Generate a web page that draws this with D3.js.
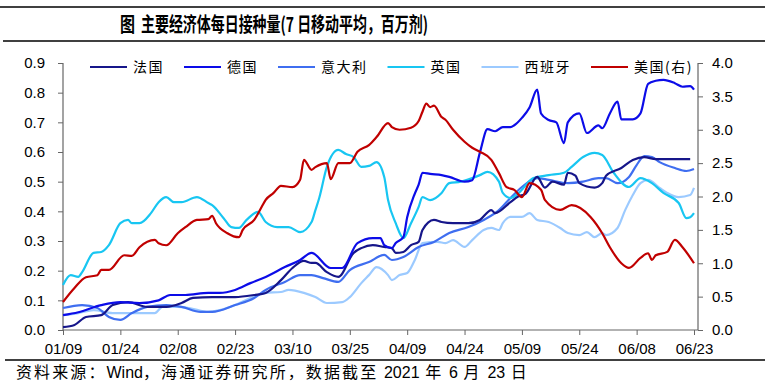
<!DOCTYPE html>
<html>
<head>
<meta charset="utf-8">
<script src="https://cdn.jsdelivr.net/npm/d3@7"></script>
<style>
  body { margin: 0; background: #fff; }
  svg { display: block; }
</style>
</head>
<body>
<svg id="chart" width="765" height="385"></svg>
<script>
// days counted from 2021-01-09
var startDate = new Date(2021, 0, 9);
var tickDays = [0, 15, 30, 45, 60, 75, 90, 105, 120, 135, 150, 165];
var leftTicks = [0, 0.1, 0.2, 0.3, 0.4, 0.5, 0.6, 0.7, 0.8, 0.9];
var rightTicks = [0, 0.5, 1, 1.5, 2, 2.5, 3, 3.5, 4];

var france = [[0,0.01],[3,0.017],[6,0.044],[10,0.05],[13,0.084],[17,0.094],[22,0.078],[27,0.078],[31,0.091],[34,0.108],[39,0.111],[45,0.111],[50,0.118],[53,0.125],[57,0.168],[60,0.209],[63,0.233],[65,0.226],[66,0.226],[69,0.195],[72,0.179],[76,0.26],[78,0.276],[81,0.286],[84,0.28],[86,0.276],[87,0.26],[89,0.263],[91,0.286],[93,0.297],[94,0.337],[97,0.371],[99,0.364],[102,0.36],[106,0.36],[109,0.371],[112,0.404],[113,0.394],[117,0.431],[119,0.45],[121,0.46],[124,0.516],[126,0.48],[128,0.5],[131,0.49],[132,0.53],[134,0.52],[135,0.495],[139,0.48],[141,0.495],[142,0.52],[146,0.546],[149,0.573],[152,0.583],[155,0.576],[160,0.576],[164,0.576]];

var germany = [[0,0.05],[4,0.06],[10,0.084],[15,0.094],[20,0.091],[25,0.1],[28,0.118],[32,0.118],[38,0.125],[41,0.125],[45,0.135],[49,0.158],[53,0.179],[58,0.212],[62,0.236],[65,0.26],[70,0.209],[73,0.209],[77,0.293],[81,0.31],[83,0.31],[84,0.286],[86,0.276],[87,0.293],[89,0.313],[90,0.38],[92,0.46],[93,0.49],[94,0.53],[96,0.526],[99,0.522],[101,0.516],[105,0.5],[107,0.505],[109,0.597],[111,0.677],[113,0.67],[115,0.684],[117,0.684],[118,0.69],[120,0.715],[122,0.75],[124,0.81],[125,0.73],[127,0.708],[129,0.7],[131,0.63],[132,0.7],[135,0.73],[137,0.664],[140,0.69],[141,0.68],[143,0.73],[145,0.77],[146,0.71],[149,0.71],[151,0.73],[153,0.83],[155,0.84],[157,0.843],[160,0.832],[162,0.82],[164,0.822],[165,0.81]];

var italy = [[0,0.074],[5,0.084],[9,0.074],[12,0.044],[15,0.034],[18,0.057],[22,0.078],[27,0.084],[31,0.078],[36,0.061],[39,0.061],[45,0.084],[50,0.108],[53,0.135],[58,0.162],[62,0.185],[65,0.185],[68,0.175],[72,0.162],[75,0.202],[80,0.229],[84,0.253],[86,0.236],[89,0.246],[93,0.28],[97,0.297],[101,0.327],[106,0.347],[110,0.371],[114,0.404],[117,0.445],[120,0.482],[124,0.512],[127,0.506],[132,0.495],[136,0.5],[140,0.512],[142,0.512],[145,0.495],[148,0.516],[150,0.556],[152,0.586],[154,0.583],[156,0.566],[160,0.546],[163,0.536],[165,0.543]];

var uk = [[0,0.152],[2,0.185],[4,0.179],[5,0.195],[8,0.26],[10,0.263],[12,0.286],[15,0.36],[17,0.371],[18,0.36],[20,0.36],[23,0.394],[25,0.431],[27,0.448],[29,0.431],[31,0.431],[35,0.448],[38,0.428],[39,0.421],[42,0.377],[44,0.347],[46,0.344],[48,0.371],[51,0.398],[53,0.364],[56,0.347],[59,0.347],[62,0.33],[65,0.364],[66,0.404],[67,0.445],[69,0.55],[72,0.607],[74,0.593],[76,0.583],[78,0.55],[80,0.553],[82,0.566],[84,0.516],[85,0.438],[87,0.36],[89,0.31],[91,0.36],[93,0.415],[94,0.448],[96,0.438],[99,0.462],[101,0.495],[104,0.5],[107,0.512],[109,0.522],[111,0.533],[114,0.5],[115,0.462],[117,0.445],[119,0.46],[123,0.512],[127,0.522],[131,0.53],[133,0.55],[136,0.583],[139,0.597],[141,0.59],[144,0.53],[148,0.482],[151,0.512],[154,0.495],[157,0.462],[161,0.428],[163,0.377],[164,0.38],[165,0.394]];

var spain = [[0,0.05],[4,0.057],[8,0.067],[13,0.057],[17,0.057],[20,0.057],[24,0.057],[26,0.078],[30,0.078],[33,0.074],[38,0.061],[41,0.067],[45,0.084],[49,0.108],[53,0.125],[57,0.128],[59,0.135],[63,0.125],[66,0.111],[69,0.091],[73,0.094],[75,0.111],[78,0.158],[80,0.185],[82,0.212],[85,0.185],[86,0.168],[88,0.185],[90,0.192],[92,0.236],[94,0.293],[98,0.297],[100,0.293],[102,0.303],[105,0.28],[107,0.303],[110,0.337],[112,0.344],[114,0.337],[115,0.36],[117,0.381],[120,0.381],[122,0.394],[124,0.371],[127,0.364],[130,0.344],[132,0.327],[135,0.32],[137,0.33],[139,0.313],[141,0.327],[142,0.32],[145,0.344],[147,0.404],[149,0.455],[151,0.495],[153,0.506],[156,0.479],[158,0.462],[161,0.448],[164,0.455],[165,0.479]];

// right axis
var usa = [[0,0.42],[3,0.63],[6,0.79],[9,0.82],[10,0.9],[12,0.9],[16,1.12],[18,1.11],[20,1.24],[24,1.35],[25,1.3],[27,1.27],[30,1.45],[32,1.54],[35,1.65],[38,1.66],[39,1.71],[40,1.6],[43,1.45],[46,1.39],[47,1.5],[50,1.65],[52,1.85],[53,1.95],[55,2.05],[57,2.16],[60,2.14],[62,2.25],[63,2.55],[65,2.4],[66,2.44],[69,2.5],[70,2.26],[72,2.5],[75,2.5],[77,2.67],[80,2.77],[82,2.89],[85,3.1],[86,3.04],[88,3.0],[91,3.03],[93,3.13],[94,3.27],[95,3.39],[96,3.34],[97,3.36],[99,3.19],[100,3.15],[102,3.0],[105,2.82],[107,2.73],[109,2.67],[112,2.55],[114,2.35],[116,2.14],[118,2.1],[120,1.99],[122,2.2],[125,2.1],[126,1.95],[130,1.8],[133,1.87],[138,1.69],[141,1.45],[143,1.24],[146,1.0],[148,0.93],[151,1.08],[153,1.15],[154,1.05],[155,1.12],[158,1.17],[160,1.35],[162,1.24],[165,1.0]];

var seriesNames = ['法国', '德国', '意大利', '英国', '西班牙', '美国(右)'];
var seriesData = [france, germany, italy, uk, spain, usa];
var seriesColors = ['#16168a', '#0c0ce8', '#3f6ef0', '#18c6f2', '#9ccaff', '#c00000'];
var seriesAxis = ['left', 'left', 'left', 'left', 'left', 'right'];
var drawOrder = [4, 2, 3, 0, 1, 5];

var sourceParts = [
  ['资料来源：', 'cjk'], ['Wind', 'latin'], ['，海通证券研究所，数据截至 ', 'cjk'],
  ['2021', 'latin'], [' 年 ', 'cjk'], ['6', 'latin'], [' 月 ', 'cjk'], ['23', 'latin'], [' 日', 'cjk']
];

var svg = d3.select('#chart');
var latin = '"Liberation Sans", Arial, sans-serif';
var cjk = '"Noto Sans CJK SC", "Noto Sans", sans-serif';

var plotLeft = 63, plotRight = 698, plotTop = 63, plotBottom = 330;

var x = d3.scaleTime()
  .domain([startDate, d3.timeDay.offset(startDate, 165)])
  .range([plotLeft, 694]);
var yL = d3.scaleLinear().domain([0, 0.9]).range([plotBottom, plotTop]);
var yR = d3.scaleLinear().domain([0, 4]).range([plotBottom, plotTop]);

function day(d) { return d3.timeDay.offset(startDate, d); }

// title block
svg.append('line').attr('x1', 0).attr('x2', 765).attr('y1', 7).attr('y2', 7)
  .attr('stroke', '#000').attr('stroke-width', 1.5);
svg.append('line').attr('x1', 3).attr('x2', 765).attr('y1', 41).attr('y2', 41)
  .attr('stroke', '#000').attr('stroke-width', 1.5);
svg.append('text')
  .attr('x', 120).attr('y', 32)
  .attr('textLength', 15).attr('lengthAdjust', 'spacingAndGlyphs')
  .style('font-family', cjk).style('font-size', '20px').style('font-weight', 'bold')
  .text('图');
svg.append('text')
  .attr('x', 141).attr('y', 32)
  .attr('textLength', 287).attr('lengthAdjust', 'spacingAndGlyphs')
  .style('font-family', cjk).style('font-size', '20px').style('font-weight', 'bold')
  .text('主要经济体每日接种量(7 日移动平均，百万剂)');

// axes
function styleAxis(g) {
  g.select('.domain').remove();
  g.selectAll('.tick line').attr('stroke', '#666');
  g.selectAll('.tick text').style('font-family', latin).style('font-size', '15px').attr('fill', '#000');
}

svg.append('g')
  .attr('transform', 'translate(' + plotLeft + ',0)')
  .call(d3.axisLeft(yL).tickValues(leftTicks).tickFormat(d3.format('.1f')).tickSize(5).tickPadding(13))
  .call(styleAxis);

svg.append('g')
  .attr('transform', 'translate(' + plotRight + ',0)')
  .call(d3.axisRight(yR).tickValues(rightTicks).tickFormat(d3.format('.1f')).tickSize(5).tickPadding(9))
  .call(styleAxis);

svg.append('g')
  .attr('transform', 'translate(0,' + plotBottom + ')')
  .call(d3.axisBottom(x).tickValues(tickDays.map(day)).tickFormat(d3.timeFormat('%m/%d')).tickSize(5).tickPadding(8))
  .call(styleAxis);

var axisLines = [[plotLeft, plotTop, plotLeft, plotBottom], [plotRight, plotTop, plotRight, plotBottom], [plotLeft, plotBottom, plotRight, plotBottom]];
svg.selectAll('line.axis-line').data(axisLines).enter().append('line')
  .attr('class', 'axis-line')
  .attr('x1', function(d) { return d[0]; }).attr('y1', function(d) { return d[1]; })
  .attr('x2', function(d) { return d[2]; }).attr('y2', function(d) { return d[3]; })
  .attr('stroke', '#666').attr('stroke-width', 1.2);

// series lines
drawOrder.forEach(function(i) {
  var yScale = seriesAxis[i] === 'right' ? yR : yL;
  var line = d3.line()
    .x(function(d) { return x(day(d[0])); })
    .y(function(d) { return yScale(d[1]); })
    .curve(d3.curveMonotoneX);
  svg.append('path')
    .datum(seriesData[i])
    .attr('d', line)
    .attr('fill', 'none')
    .attr('stroke', seriesColors[i])
    .attr('stroke-width', 2.2)
    .attr('stroke-linejoin', 'round');
});

// legend
var legend = svg.append('g').attr('class', 'legend');
var lx = 90;
seriesNames.forEach(function(name, i) {
  legend.append('line')
    .attr('x1', lx).attr('x2', lx + 37).attr('y1', 67).attr('y2', 67)
    .attr('stroke', seriesColors[i]).attr('stroke-width', 2.2);
  var t = legend.append('text')
    .attr('x', lx + 43).attr('y', 72)
    .style('font-family', cjk).style('font-size', '14px').style('letter-spacing', '1.5px')
    .attr('fill', '#000')
    .text(name);
  lx = lx + 43 + t.node().getComputedTextLength() + 20;
});

// source
svg.append('line').attr('x1', 5).attr('x2', 765).attr('y1', 360).attr('y2', 360)
  .attr('stroke', '#000').attr('stroke-width', 1.5);
var src = svg.append('text')
  .attr('x', 16).attr('y', 378)
  .style('white-space', 'pre')
  .style('font-size', '16px');
sourceParts.forEach(function(p) {
  src.append('tspan')
    .style('font-family', p[1] === 'latin' ? latin : cjk)
    .style('letter-spacing', p[1] === 'latin' ? '0px' : '2.1px')
    .text(p[0]);
});
</script>
</body>
</html>
